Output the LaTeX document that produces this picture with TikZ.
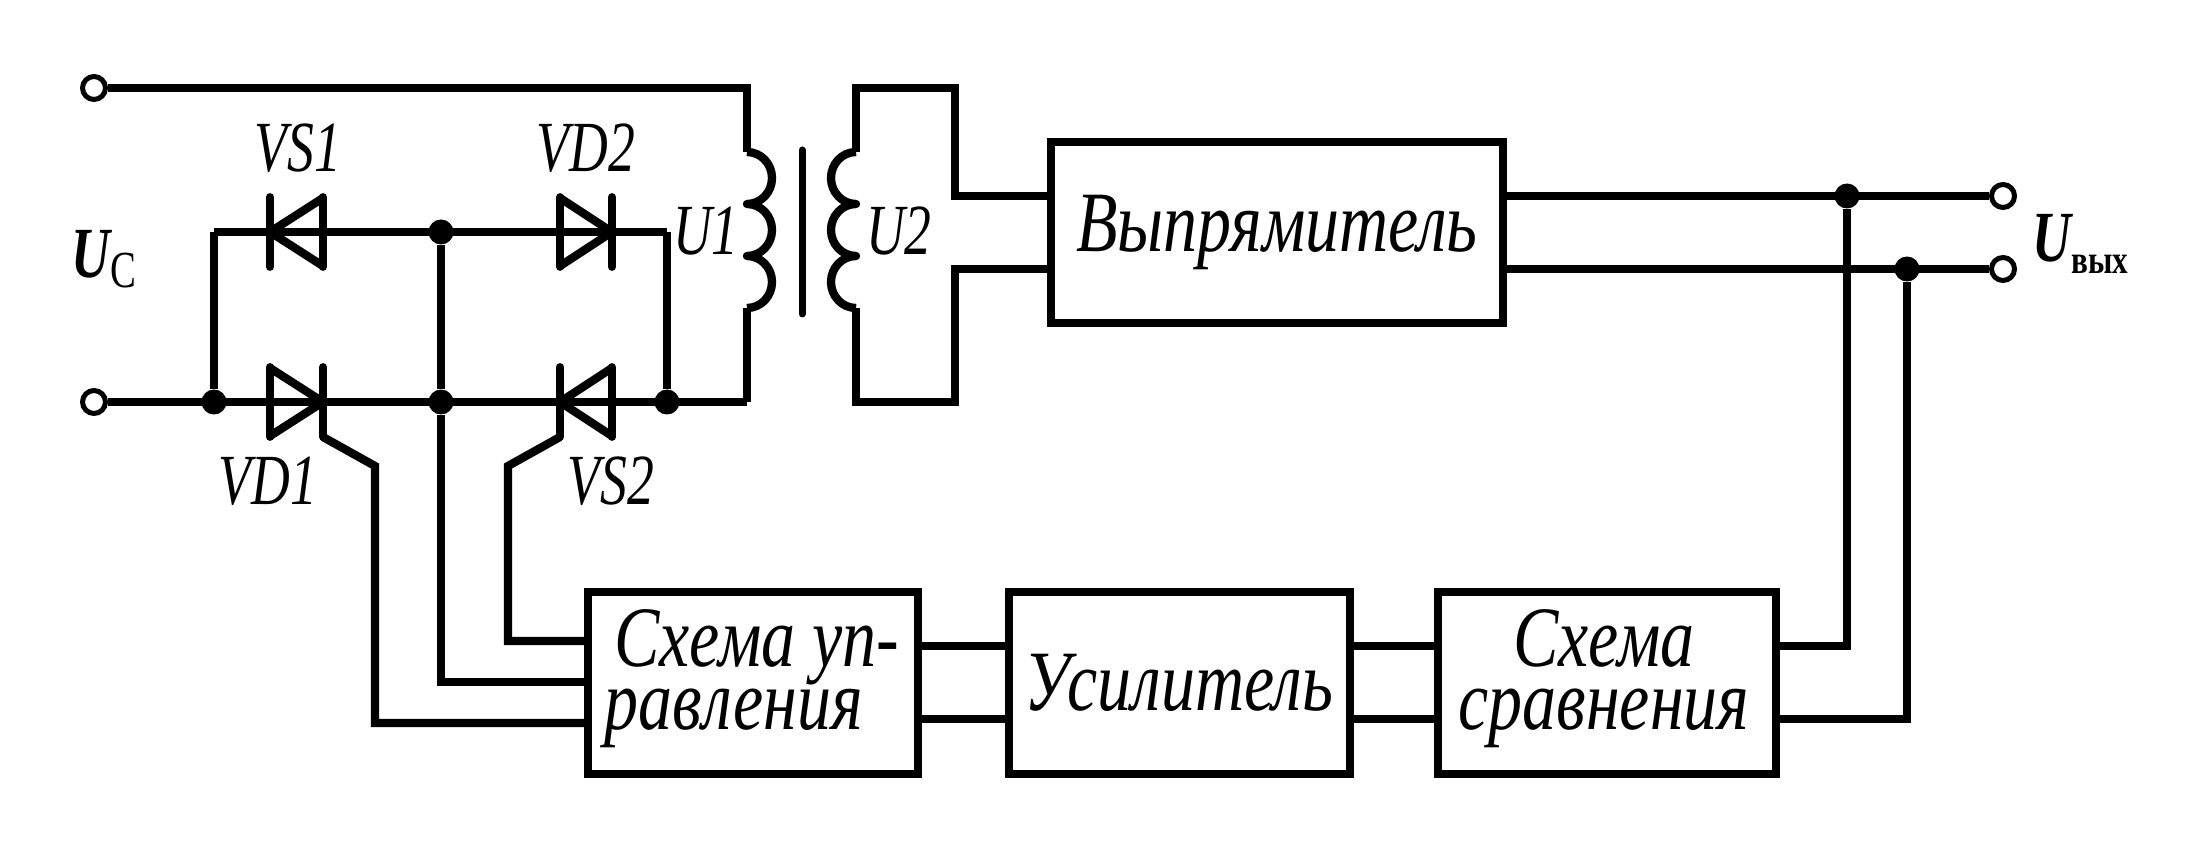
\documentclass[tikz,border=0pt]{standalone}
\usepackage{fontspec}
\setmainfont{Liberation Serif}
\newcommand{\cond}[1]{\scalebox{.745}[1]{#1}}
\newcommand{\condb}[1]{\scalebox{.79}[1]{#1}}
\newcommand{\diodeshape}[3]{% base x, tip x, y
  \draw[wire,line cap=butt] (#1,#3-34) -- (#2,#3) -- (#1,#3+34);
  \draw[vwire,line cap=round] (#2,#3-35) -- (#2,#3+35);
  \draw[vwire,line cap=round] (#1,#3-35) -- (#1,#3+35);
}
\tikzset{
  x=0.5pt,y=-0.5pt,
  wire/.style={line width=4.15pt,line join=miter},
  vwire/.style={line width=3.9pt,line join=miter},
  coil/.style={line width=4.15pt,line join=round},
  box/.style={draw,line width=4pt,inner sep=0pt,outer sep=0pt,anchor=north west,fill=white},
  term/.style={circle,draw,line width=2.5pt,minimum size=11.5pt,inner sep=0pt,fill=white},
  dot/.style={circle,fill=black,minimum size=12.5pt,inner sep=0pt},
  small/.style={font=\fontsize{36}{36}\selectfont\itshape,inner sep=0pt},
  big/.style={font=\fontsize{43}{31.5}\selectfont\itshape,inner sep=0pt},
}
\begin{document}
\begin{tikzpicture}
\useasboundingbox (0,0) rectangle (2197,850);
% boxes
\node[box,minimum width=226pt,minimum height=90.5pt] (rect) at (1051,142) {};
\node[box,minimum width=165pt,minimum height=90.75pt] (ctrl) at (588,592) {};
\node[box,minimum width=170.25pt,minimum height=90.75pt] (amp) at (1009,592) {};
\node[box,minimum width=169.25pt,minimum height=90.75pt] (cmp) at (1437.5,592) {};
% terminals
\node[term] (t1) at (94,88) {};
\node[term] (t2) at (94,402) {};
\node[term] (t3) at (2003,196) {};
\node[term] (t4) at (2003,269) {};
% junctions
\node[dot] (j1) at (214,402) {};
\node[dot] (j2) at (441,232) {};
\node[dot] (j3) at (441,402) {};
\node[dot] (j4) at (667,402) {};
\node[dot] (j5) at (1847,196) {};
\node[dot] (j6) at (1907,269) {};
% primary
\coordinate (p0) at (747,88);
\coordinate (p1) at (747,152);
\coordinate (p2) at (747,308);
\coordinate (p3) at (747,402);
\draw[wire] (t1) -- (p0) -- (p0 |- p1);
\draw[coil] (p1) arc[start angle=-90,end angle=90,x radius=25,y radius=26]
  arc[start angle=-90,end angle=90,x radius=25,y radius=26]
  arc[start angle=-90,end angle=90,x radius=25,y radius=26];
\draw[vwire] (p2) -- (p3);
\draw[wire] (t2) -- (p3);
% bridge
\coordinate (b1) at (214,232);
\coordinate (b2) at (667,232);
\draw[vwire] (b1) -- (j1);
\draw[vwire] (b2) -- (j4);
\draw[wire] (b1) -- (b2);
\draw[vwire] (j2) -- (j3);
\diodeshape{323}{270}{232}
\diodeshape{560}{612}{232}
\diodeshape{270}{323}{402}
\diodeshape{612}{560}{402}
% core
\coordinate (c1) at (802,150);
\coordinate (c2) at (802,314);
\draw[line width=3.5pt,line cap=round] (c1) -- (c2);
% secondary
\coordinate (s0) at (856,88);
\coordinate (s1) at (856,152);
\coordinate (s2) at (856,308);
\coordinate (s3) at (856,402);
\coordinate (s4) at (955,88);
\coordinate (s5) at (955,196);
\coordinate (s6) at (955,269);
\coordinate (s7) at (955,402);
\coordinate (r1) at (1051,196);
\coordinate (r2) at (1051,269);
\draw[coil] (s1) arc[start angle=270,end angle=90,x radius=25,y radius=26]
  arc[start angle=270,end angle=90,x radius=25,y radius=26]
  arc[start angle=270,end angle=90,x radius=25,y radius=26];
\draw[wire] (s1) -- (s0) -- (s4) -- (s5) -- (r1);
\draw[wire] (r2) -- (s6) -- (s7) -- (s3) -- (s2);
% outputs
\coordinate (r3) at (1503,196);
\coordinate (r4) at (1503,269);
\draw[wire] (r3) -- (t3);
\draw[wire] (r4) -- (t4);
% gates
\coordinate (g1) at (323,437);
\coordinate (g2) at (375,466);
\coordinate (g3) at (375,723);
\coordinate (g4) at (560,437);
\coordinate (g5) at (508,466);
\coordinate (g6) at (508,641);
\coordinate (g7) at (441,682);
\coordinate (e1) at (588,723);
\coordinate (e2) at (588,682);
\coordinate (e3) at (588,641);
\draw[wire] (g1) -- (g2) -- (g3) -- (e1);
\draw[wire] (g4) -- (g5) -- (g6) -- (e3);
\draw[wire] (j3) -- (g7) -- (e2);
% links between blocks
\draw[wire] (ctrl.east|-0,646) -- (amp.west|-0,646);
\draw[wire] (ctrl.east|-0,719) -- (amp.west|-0,719);
\draw[wire] (amp.east|-0,646) -- (cmp.west|-0,646);
\draw[wire] (amp.east|-0,719) -- (cmp.west|-0,719);
\coordinate (f1) at (1847,646);
\coordinate (f2) at (1907,719);
\draw[wire] (cmp.east|-f1) -- (f1) -- (j5);
\draw[wire] (cmp.east|-f2) -- (f2) -- (j6);
% labels
\node[small,anchor=base] (lvs1) at (298,172) {\cond{VS1}};
\node[small,anchor=base] (lvd2) at (586,172) {\cond{VD2}};
\node[small,anchor=base] (lvd1) at (268,504) {\cond{VD1}};
\node[small,anchor=base] (lvs2) at (611,504) {\cond{VS2}};
\node[small,anchor=base] (lu1) at (706,255) {\cond{U1}};
\node[small,anchor=base] (lu2) at (899,255) {\cond{U2}};
\node[small,anchor=base west] (luc) at (71,278) {\cond{\bfseries U\raisebox{-5pt}{\fontsize{26}{26}\selectfont\mdseries\upshape C}}};
\node[small,anchor=base west] (lout) at (2032,262) {\cond{\bfseries U}\raisebox{-6pt}{\scalebox{.78}[1]{\fontsize{20}{20}\selectfont\bfseries\upshape вых}}};
\node[big,anchor=base] (lrect) at (1277,252) {\condb{Выпрямитель}};
\node[big] (lctrl) at (752,679) {\condb{\begin{tabular}{@{}l@{}}\hspace{6pt}Схема уп-\\равления\end{tabular}}};
\node[big,anchor=base] (lamp) at (1179,710) {\condb{Усилитель}};
\node[big] (lcmp) at (1604,679) {\condb{\begin{tabular}{@{}c@{}}Схема\\сравнения\end{tabular}}};
\end{tikzpicture}
\end{document}
